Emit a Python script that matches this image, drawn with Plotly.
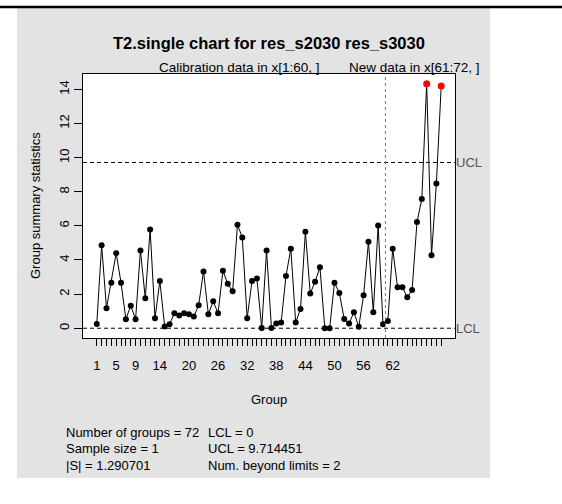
import plotly.graph_objects as go

groups = list(range(1, 73))
t2_values = [
    0.25, 4.87, 1.17, 2.67, 4.40, 2.67, 0.53, 1.32, 0.53, 4.56,
    1.75, 5.79, 0.58, 2.77, 0.10, 0.23, 0.88, 0.74, 0.88, 0.82,
    0.68, 1.35, 3.33, 0.82, 1.58, 0.88, 3.37, 2.61, 2.16, 6.06,
    5.32, 0.58, 2.77, 2.92, 0.02, 4.56, 0.02, 0.27, 0.33, 3.06,
    4.66, 0.33, 1.13, 5.65, 2.03, 2.73, 3.57, 0.00, 0.00, 2.67,
    2.07, 0.54, 0.27, 0.94, 0.08, 1.93, 5.07, 0.94, 6.02, 0.23,
    0.43, 4.66, 2.40, 2.40, 1.81, 2.24, 6.22, 7.57, 14.33, 4.27,
    8.48, 14.20,
]
UCL = 9.714451
LCL = 0.0
calib_end = 60
tick_labels = {1: "1", 5: "5", 9: "9", 14: "14", 20: "20", 26: "26", 32: "32",
               38: "38", 44: "44", 50: "50", 56: "56", 62: "62"}
stats_left = ["Number of groups = 72", "Sample size = 1", "|S| = 1.290701"]
stats_right = ["LCL = 0", "UCL = 9.714451", "Num. beyond limits = 2"]

W, H = 562, 504
L, R, T, B = 83, 455, 74, 338
pw, ph = R - L, B - T


def px(x):
    return (x - L) / pw


def py(y):
    return (B - y) / ph


beyond_x = [g for g, v in zip(groups, t2_values) if v > UCL or v < LCL]
beyond_y = [v for v in t2_values if v > UCL or v < LCL]
in_x = [g for g, v in zip(groups, t2_values) if LCL <= v <= UCL]
in_y = [v for v in t2_values if LCL <= v <= UCL]

xmin, xmax = 1 - 0.04 * 71, 72 + 0.04 * 71
ymin, ymax = -0.573, 14.90

fig = go.Figure()
fig.add_trace(go.Scatter(x=groups, y=t2_values, mode="lines",
                         line=dict(color="black", width=1), showlegend=False, hoverinfo="skip"))
fig.add_trace(go.Scatter(x=in_x, y=in_y, mode="markers",
                         marker=dict(color="black", size=6), showlegend=False))
fig.add_trace(go.Scatter(x=beyond_x, y=beyond_y, mode="markers",
                         marker=dict(color="#FF0000", size=7), showlegend=False))

shapes = [
    dict(type="rect", xref="paper", yref="paper", x0=px(17), x1=px(490), y0=py(478), y1=py(8),
         fillcolor="#E3E3E3", line=dict(width=0), layer="below"),
    dict(type="rect", xref="paper", yref="paper", x0=0, x1=1, y0=0, y1=1,
         fillcolor="white", line=dict(width=0), layer="below"),
    dict(type="line", xref="paper", yref="paper", x0=px(0), x1=px(562), y0=py(7), y1=py(7),
         line=dict(color="black", width=2.5)),
    dict(type="line", xref="paper", yref="y", x0=0, x1=1, y0=UCL, y1=UCL,
         line=dict(color="black", width=1, dash="4px,3px")),
    dict(type="line", xref="paper", yref="y", x0=0, x1=1, y0=LCL, y1=LCL,
         line=dict(color="black", width=1, dash="4px,3px")),
    dict(type="line", xref="x", yref="paper", x0=calib_end + 0.5, x1=calib_end + 0.5, y0=0, y1=1,
         line=dict(color="#777777", width=1, dash="dot")),
]

font = "Liberation Sans, Arial, Helvetica, sans-serif"
ann = [
    dict(text="<b>T2.single chart for res_s2030 res_s3030</b>", x=0.5, y=py(43), xref="paper", yref="paper",
         showarrow=False, font=dict(size=16.5, color="black"), xanchor="center", yanchor="middle"),
    dict(text="Calibration data in x[1:60, ]", x=(1 + calib_end) / 2, y=1, xref="x", yref="paper",
         showarrow=False, font=dict(size=13.5, color="black"), xanchor="center", yanchor="bottom", yshift=-3),
    dict(text="New data in x[61:72, ]", x=(calib_end + 1 + 72) / 2, y=1, xref="x", yref="paper",
         showarrow=False, font=dict(size=13.5, color="black"), xanchor="center", yanchor="bottom", yshift=-3),
    dict(text="UCL", x=1, y=UCL, xref="paper", yref="y", showarrow=False,
         font=dict(size=13, color="#555555"), xanchor="left", yanchor="middle", xshift=-1),
    dict(text="LCL", x=1, y=LCL, xref="paper", yref="y", showarrow=False,
         font=dict(size=13, color="#555555"), xanchor="left", yanchor="middle", xshift=-1),
    dict(text="Group", x=0.5, y=py(399), xref="paper", yref="paper", showarrow=False,
         font=dict(size=13, color="black"), xanchor="center", yanchor="middle"),
    dict(text="Group summary statistics", x=px(35), y=0.5, xref="paper", yref="paper", showarrow=False,
         font=dict(size=13, color="black"), xanchor="center", yanchor="middle", textangle=-90),
]
for i, (a, b) in enumerate(zip(stats_left, stats_right)):
    yy = py(432 + i * 16.5)
    ann.append(dict(text=a, x=px(64), y=yy, xref="paper", yref="paper", showarrow=False,
                    font=dict(size=13, color="black"), xanchor="left", yanchor="middle"))
    ann.append(dict(text=b, x=px(206), y=yy, xref="paper", yref="paper", showarrow=False,
                    font=dict(size=13, color="black"), xanchor="left", yanchor="middle"))

fig.update_layout(
    width=W, height=H,
    margin=dict(l=L, r=W - R, t=T, b=H - B, pad=0),
    paper_bgcolor="white", plot_bgcolor="white",
    font=dict(family=font, size=13, color="black"),
    shapes=shapes, annotations=ann, showlegend=False,
    xaxis=dict(range=[xmin, xmax], tickmode="array", tickvals=groups,
               ticktext=[tick_labels.get(g, "") for g in groups],
               ticks="outside", ticklen=7, tickwidth=1, tickcolor="black",
               ticklabelstandoff=8,
               showline=True, linecolor="black", linewidth=1, mirror=True,
               showgrid=False, zeroline=False, tickfont=dict(size=13)),
    yaxis=dict(range=[ymin, ymax], tickmode="array", tickvals=[0, 2, 4, 6, 8, 10, 12, 14],
               ticks="outside", ticklen=8, tickwidth=1, tickcolor="black", tickangle=-90,
               showline=True, linecolor="black", linewidth=1, mirror=True,
               showgrid=False, zeroline=False, tickfont=dict(size=13)),
)

fig.write_html("out.html")
